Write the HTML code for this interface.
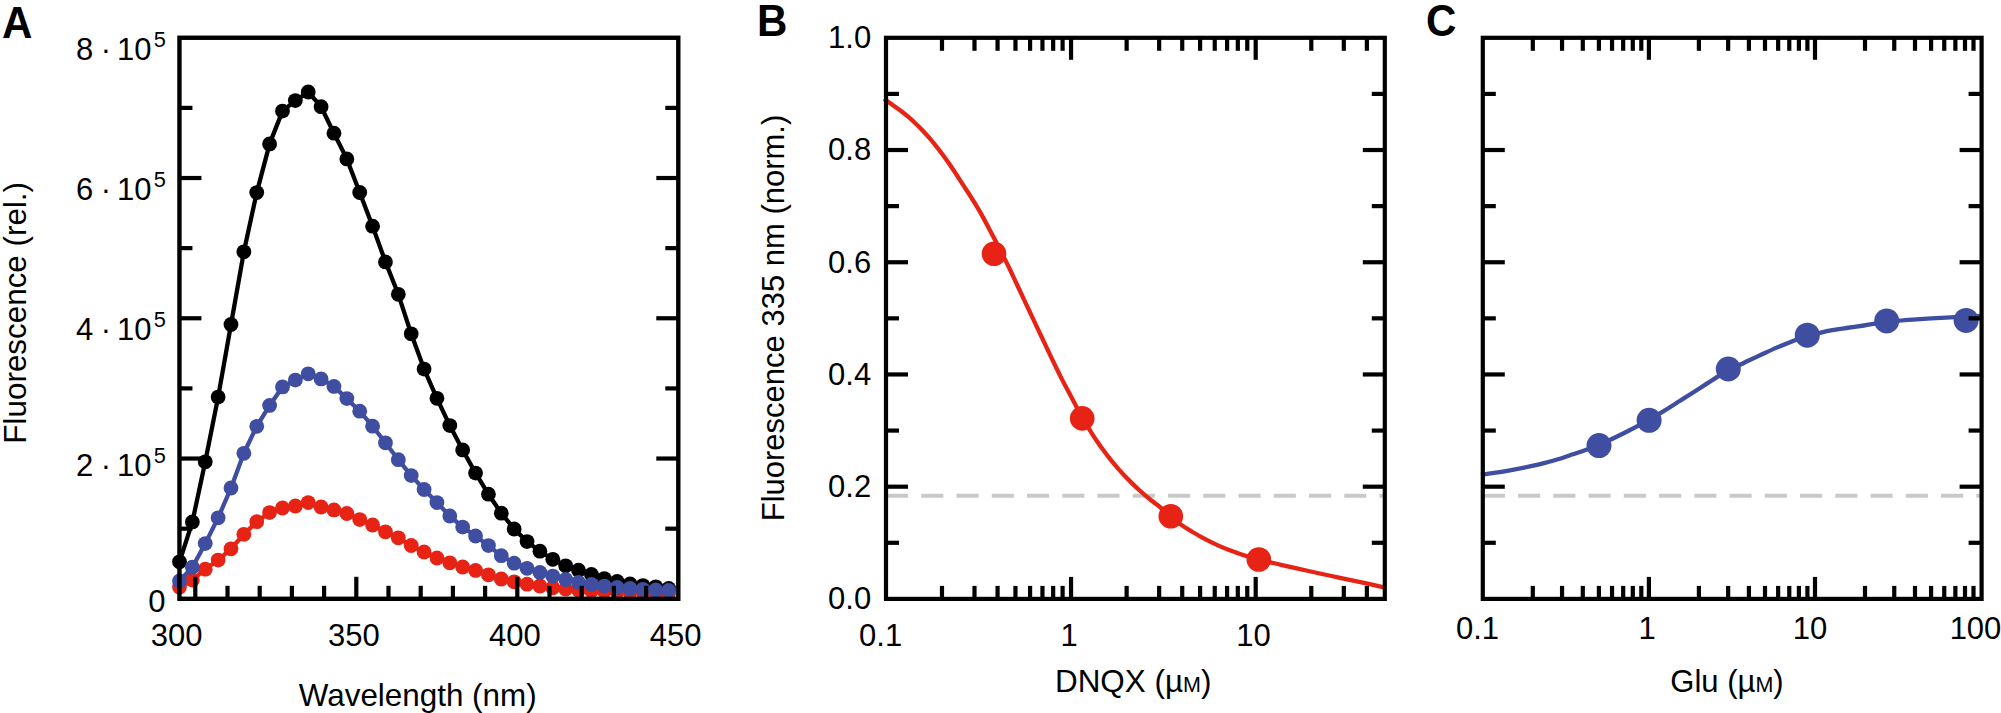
<!DOCTYPE html>
<html lang="en">
<head>
<meta charset="utf-8">
<title>Figure: fluorescence spectra and dose-response curves</title>
<style>
html,body{margin:0;padding:0;background:#fff;}
body{width:2001px;height:713px;overflow:hidden;font-family:"Liberation Sans",Arial,Helvetica,sans-serif;}
svg{display:block;}
</style>
</head>
<body>
<svg width="2001" height="713" viewBox="0 0 2001 713" font-family="'Liberation Sans', Arial, Helvetica, sans-serif" fill="#000">
<rect width="2001" height="713" fill="#fff"/>
<g id="panelA">
<polyline fill="none" stroke="#e62314" stroke-width="4.3" stroke-linejoin="round" points="179.5,587 192.37,580.1 205.24,569.2 218.12,560.1 230.99,548.8 243.86,534.3 256.73,521.7 269.6,512.6 282.48,508 295.35,506 308.22,502.6 321.09,507 333.96,509.9 346.84,513.5 359.71,519.6 372.58,525 385.45,531.8 398.32,537.8 411.2,545.5 424.07,552 436.94,558 449.81,562.8 462.68,567 475.56,570.4 488.43,574.8 501.3,579 514.17,581.8 527.04,584.2 539.92,586 552.79,587.8 565.66,589 578.53,590 591.4,590.7 604.28,591.3 617.15,591.8 630.02,592.2 642.89,592.5 655.76,592.8 668.64,593"/>
<g fill="#e62314"><circle cx="179.5" cy="587" r="7.4"/><circle cx="192.37" cy="580.1" r="7.4"/><circle cx="205.24" cy="569.2" r="7.4"/><circle cx="218.12" cy="560.1" r="7.4"/><circle cx="230.99" cy="548.8" r="7.4"/><circle cx="243.86" cy="534.3" r="7.4"/><circle cx="256.73" cy="521.7" r="7.4"/><circle cx="269.6" cy="512.6" r="7.4"/><circle cx="282.48" cy="508" r="7.4"/><circle cx="295.35" cy="506" r="7.4"/><circle cx="308.22" cy="502.6" r="7.4"/><circle cx="321.09" cy="507" r="7.4"/><circle cx="333.96" cy="509.9" r="7.4"/><circle cx="346.84" cy="513.5" r="7.4"/><circle cx="359.71" cy="519.6" r="7.4"/><circle cx="372.58" cy="525" r="7.4"/><circle cx="385.45" cy="531.8" r="7.4"/><circle cx="398.32" cy="537.8" r="7.4"/><circle cx="411.2" cy="545.5" r="7.4"/><circle cx="424.07" cy="552" r="7.4"/><circle cx="436.94" cy="558" r="7.4"/><circle cx="449.81" cy="562.8" r="7.4"/><circle cx="462.68" cy="567" r="7.4"/><circle cx="475.56" cy="570.4" r="7.4"/><circle cx="488.43" cy="574.8" r="7.4"/><circle cx="501.3" cy="579" r="7.4"/><circle cx="514.17" cy="581.8" r="7.4"/><circle cx="527.04" cy="584.2" r="7.4"/><circle cx="539.92" cy="586" r="7.4"/><circle cx="552.79" cy="587.8" r="7.4"/><circle cx="565.66" cy="589" r="7.4"/><circle cx="578.53" cy="590" r="7.4"/><circle cx="591.4" cy="590.7" r="7.4"/><circle cx="604.28" cy="591.3" r="7.4"/><circle cx="617.15" cy="591.8" r="7.4"/><circle cx="630.02" cy="592.2" r="7.4"/><circle cx="642.89" cy="592.5" r="7.4"/><circle cx="655.76" cy="592.8" r="7.4"/><circle cx="668.64" cy="593" r="7.4"/></g>
<polyline fill="none" stroke="#000" stroke-width="4.3" stroke-linejoin="round" points="179.5,561.8 192.37,521.9 205.24,461.8 218.12,397.1 230.99,324.5 243.86,251.8 256.73,192.6 269.6,143.9 282.48,111.1 295.35,100.6 308.22,92 321.09,106.7 333.96,133.2 346.84,158.9 359.71,192.5 372.58,226.2 385.45,261.9 398.32,294.3 411.2,333.8 424.07,369.1 436.94,398.3 449.81,425.6 462.68,449.9 475.56,473.1 488.43,494.2 501.3,513.2 514.17,529 527.04,541.6 539.92,551.2 552.79,559.3 565.66,565.8 578.53,570.2 591.4,574.4 604.28,578.6 617.15,581.5 630.02,583.9 642.89,585.6 655.76,586.8 668.64,588.5"/>
<g fill="#000"><circle cx="179.5" cy="561.8" r="7.4"/><circle cx="192.37" cy="521.9" r="7.4"/><circle cx="205.24" cy="461.8" r="7.4"/><circle cx="218.12" cy="397.1" r="7.4"/><circle cx="230.99" cy="324.5" r="7.4"/><circle cx="243.86" cy="251.8" r="7.4"/><circle cx="256.73" cy="192.6" r="7.4"/><circle cx="269.6" cy="143.9" r="7.4"/><circle cx="282.48" cy="111.1" r="7.4"/><circle cx="295.35" cy="100.6" r="7.4"/><circle cx="308.22" cy="92" r="7.4"/><circle cx="321.09" cy="106.7" r="7.4"/><circle cx="333.96" cy="133.2" r="7.4"/><circle cx="346.84" cy="158.9" r="7.4"/><circle cx="359.71" cy="192.5" r="7.4"/><circle cx="372.58" cy="226.2" r="7.4"/><circle cx="385.45" cy="261.9" r="7.4"/><circle cx="398.32" cy="294.3" r="7.4"/><circle cx="411.2" cy="333.8" r="7.4"/><circle cx="424.07" cy="369.1" r="7.4"/><circle cx="436.94" cy="398.3" r="7.4"/><circle cx="449.81" cy="425.6" r="7.4"/><circle cx="462.68" cy="449.9" r="7.4"/><circle cx="475.56" cy="473.1" r="7.4"/><circle cx="488.43" cy="494.2" r="7.4"/><circle cx="501.3" cy="513.2" r="7.4"/><circle cx="514.17" cy="529" r="7.4"/><circle cx="527.04" cy="541.6" r="7.4"/><circle cx="539.92" cy="551.2" r="7.4"/><circle cx="552.79" cy="559.3" r="7.4"/><circle cx="565.66" cy="565.8" r="7.4"/><circle cx="578.53" cy="570.2" r="7.4"/><circle cx="591.4" cy="574.4" r="7.4"/><circle cx="604.28" cy="578.6" r="7.4"/><circle cx="617.15" cy="581.5" r="7.4"/><circle cx="630.02" cy="583.9" r="7.4"/><circle cx="642.89" cy="585.6" r="7.4"/><circle cx="655.76" cy="586.8" r="7.4"/><circle cx="668.64" cy="588.5" r="7.4"/></g>
<polyline fill="none" stroke="#3f4ea1" stroke-width="4.3" stroke-linejoin="round" points="179.5,580.9 192.37,567.2 205.24,543.6 218.12,517.8 230.99,488 243.86,453.3 256.73,426.3 269.6,405.4 282.48,386.9 295.35,380.1 308.22,373.8 321.09,378.9 333.96,386.4 346.84,398.6 359.71,411.2 372.58,426.2 385.45,442.8 398.32,459.7 411.2,475.6 424.07,489.5 436.94,502.6 449.81,516 462.68,527.1 475.56,536 488.43,545.6 501.3,555.7 514.17,563.2 527.04,568.3 539.92,572.4 552.79,576.1 565.66,579.5 578.53,582.4 591.4,584.4 604.28,586.1 617.15,587.4 630.02,588.4 642.89,589.3 655.76,590 668.64,590.4"/>
<g fill="#3f4ea1"><circle cx="179.5" cy="580.9" r="7.4"/><circle cx="192.37" cy="567.2" r="7.4"/><circle cx="205.24" cy="543.6" r="7.4"/><circle cx="218.12" cy="517.8" r="7.4"/><circle cx="230.99" cy="488" r="7.4"/><circle cx="243.86" cy="453.3" r="7.4"/><circle cx="256.73" cy="426.3" r="7.4"/><circle cx="269.6" cy="405.4" r="7.4"/><circle cx="282.48" cy="386.9" r="7.4"/><circle cx="295.35" cy="380.1" r="7.4"/><circle cx="308.22" cy="373.8" r="7.4"/><circle cx="321.09" cy="378.9" r="7.4"/><circle cx="333.96" cy="386.4" r="7.4"/><circle cx="346.84" cy="398.6" r="7.4"/><circle cx="359.71" cy="411.2" r="7.4"/><circle cx="372.58" cy="426.2" r="7.4"/><circle cx="385.45" cy="442.8" r="7.4"/><circle cx="398.32" cy="459.7" r="7.4"/><circle cx="411.2" cy="475.6" r="7.4"/><circle cx="424.07" cy="489.5" r="7.4"/><circle cx="436.94" cy="502.6" r="7.4"/><circle cx="449.81" cy="516" r="7.4"/><circle cx="462.68" cy="527.1" r="7.4"/><circle cx="475.56" cy="536" r="7.4"/><circle cx="488.43" cy="545.6" r="7.4"/><circle cx="501.3" cy="555.7" r="7.4"/><circle cx="514.17" cy="563.2" r="7.4"/><circle cx="527.04" cy="568.3" r="7.4"/><circle cx="539.92" cy="572.4" r="7.4"/><circle cx="552.79" cy="576.1" r="7.4"/><circle cx="565.66" cy="579.5" r="7.4"/><circle cx="578.53" cy="582.4" r="7.4"/><circle cx="591.4" cy="584.4" r="7.4"/><circle cx="604.28" cy="586.1" r="7.4"/><circle cx="617.15" cy="587.4" r="7.4"/><circle cx="630.02" cy="588.4" r="7.4"/><circle cx="642.89" cy="589.3" r="7.4"/><circle cx="655.76" cy="590" r="7.4"/><circle cx="668.64" cy="590.4" r="7.4"/></g>
<rect x="179.45" y="37.75" width="498.85" height="561.05" fill="none" stroke="#000" stroke-width="4.4"/>
<line x1="179.45" y1="107.88" x2="192.45" y2="107.88" stroke="#000" stroke-width="4.2" />
<line x1="678.3" y1="107.88" x2="665.3" y2="107.88" stroke="#000" stroke-width="4.2" />
<line x1="179.45" y1="178.01" x2="201.45" y2="178.01" stroke="#000" stroke-width="4.2" />
<line x1="678.3" y1="178.01" x2="656.3" y2="178.01" stroke="#000" stroke-width="4.2" />
<line x1="179.45" y1="248.14" x2="192.45" y2="248.14" stroke="#000" stroke-width="4.2" />
<line x1="678.3" y1="248.14" x2="665.3" y2="248.14" stroke="#000" stroke-width="4.2" />
<line x1="179.45" y1="318.27" x2="201.45" y2="318.27" stroke="#000" stroke-width="4.2" />
<line x1="678.3" y1="318.27" x2="656.3" y2="318.27" stroke="#000" stroke-width="4.2" />
<line x1="179.45" y1="388.41" x2="192.45" y2="388.41" stroke="#000" stroke-width="4.2" />
<line x1="678.3" y1="388.41" x2="665.3" y2="388.41" stroke="#000" stroke-width="4.2" />
<line x1="179.45" y1="458.54" x2="201.45" y2="458.54" stroke="#000" stroke-width="4.2" />
<line x1="678.3" y1="458.54" x2="656.3" y2="458.54" stroke="#000" stroke-width="4.2" />
<line x1="179.45" y1="528.67" x2="192.45" y2="528.67" stroke="#000" stroke-width="4.2" />
<line x1="678.3" y1="528.67" x2="665.3" y2="528.67" stroke="#000" stroke-width="4.2" />
<line x1="646.1" y1="598.8" x2="646.1" y2="585.8" stroke="#000" stroke-width="4.2" />
<line x1="613.9" y1="598.8" x2="613.9" y2="585.8" stroke="#000" stroke-width="4.2" />
<line x1="581.7" y1="598.8" x2="581.7" y2="585.8" stroke="#000" stroke-width="4.2" />
<line x1="549.5" y1="598.8" x2="549.5" y2="585.8" stroke="#000" stroke-width="4.2" />
<line x1="517.3" y1="598.8" x2="517.3" y2="576.8" stroke="#000" stroke-width="4.2" />
<line x1="485.1" y1="598.8" x2="485.1" y2="585.8" stroke="#000" stroke-width="4.2" />
<line x1="452.9" y1="598.8" x2="452.9" y2="585.8" stroke="#000" stroke-width="4.2" />
<line x1="420.7" y1="598.8" x2="420.7" y2="585.8" stroke="#000" stroke-width="4.2" />
<line x1="388.5" y1="598.8" x2="388.5" y2="585.8" stroke="#000" stroke-width="4.2" />
<line x1="356.3" y1="598.8" x2="356.3" y2="576.8" stroke="#000" stroke-width="4.2" />
<line x1="324.1" y1="598.8" x2="324.1" y2="585.8" stroke="#000" stroke-width="4.2" />
<line x1="291.9" y1="598.8" x2="291.9" y2="585.8" stroke="#000" stroke-width="4.2" />
<line x1="259.7" y1="598.8" x2="259.7" y2="585.8" stroke="#000" stroke-width="4.2" />
<line x1="227.5" y1="598.8" x2="227.5" y2="585.8" stroke="#000" stroke-width="4.2" />
<line x1="195.3" y1="598.8" x2="195.3" y2="576.8" stroke="#000" stroke-width="4.2" />
<text x="84.6" y="59.6" font-size="31" text-anchor="middle" font-weight="normal" >8</text>
<text x="105.9" y="59.6" font-size="31" text-anchor="middle" font-weight="normal" >·</text>
<text x="151.6" y="59.6" font-size="31" text-anchor="end" font-weight="normal" >10</text>
<text x="153.7" y="46.7" font-size="21.8" text-anchor="start" font-weight="normal" >5</text>
<text x="84.6" y="199.6" font-size="31" text-anchor="middle" font-weight="normal" >6</text>
<text x="105.9" y="199.6" font-size="31" text-anchor="middle" font-weight="normal" >·</text>
<text x="151.6" y="199.6" font-size="31" text-anchor="end" font-weight="normal" >10</text>
<text x="153.7" y="186.7" font-size="21.8" text-anchor="start" font-weight="normal" >5</text>
<text x="84.6" y="340.1" font-size="31" text-anchor="middle" font-weight="normal" >4</text>
<text x="105.9" y="340.1" font-size="31" text-anchor="middle" font-weight="normal" >·</text>
<text x="151.6" y="340.1" font-size="31" text-anchor="end" font-weight="normal" >10</text>
<text x="153.7" y="327.2" font-size="21.8" text-anchor="start" font-weight="normal" >5</text>
<text x="84.6" y="476.3" font-size="31" text-anchor="middle" font-weight="normal" >2</text>
<text x="105.9" y="476.3" font-size="31" text-anchor="middle" font-weight="normal" >·</text>
<text x="151.6" y="476.3" font-size="31" text-anchor="end" font-weight="normal" >10</text>
<text x="153.7" y="463.4" font-size="21.8" text-anchor="start" font-weight="normal" >5</text>
<text x="165.6" y="612.2" font-size="31" text-anchor="end" font-weight="normal" >0</text>
<text x="176.7" y="646.2" font-size="31" text-anchor="middle" font-weight="normal" >300</text>
<text x="353.8" y="646.2" font-size="31" text-anchor="middle" font-weight="normal" >350</text>
<text x="514.8" y="646.2" font-size="31" text-anchor="middle" font-weight="normal" >400</text>
<text x="675.6" y="646.2" font-size="31" text-anchor="middle" font-weight="normal" >450</text>
<text x="417.7" y="705.8" font-size="31.4" text-anchor="middle" font-weight="normal" >Wavelength (nm)</text>
<text transform="translate(26.1,312.8) rotate(-90)" font-size="31.4" text-anchor="middle">Fluorescence (rel.)</text>
<text transform="translate(2.1,38.1) scale(0.935,1)" font-size="45" font-weight="bold">A</text>
</g>
<g id="panelB">
<line x1="886" y1="495.8" x2="1384.8" y2="495.8" stroke="#c9c9c9" stroke-width="4.1" stroke-dasharray="22.1 13.15"/>
<path d="M884,98.9 C884.73,99.4 886.73,100.73 888.4,101.9 C890.07,103.07 891.9,104.38 894,105.9 C896.1,107.42 898.65,109.2 901,111 C903.35,112.8 905.75,114.7 908.1,116.7 C910.45,118.7 912.77,120.78 915.1,123 C917.43,125.22 919.77,127.55 922.1,130 C924.43,132.45 926.77,135.02 929.1,137.7 C931.43,140.38 933.77,143.18 936.1,146.1 C938.43,149.02 940.77,152.05 943.1,155.2 C945.43,158.35 947.75,161.57 950.1,165 C952.45,168.43 954.85,172.2 957.2,175.8 C959.55,179.4 962.38,183.82 964.2,186.6 C966.02,189.38 966.28,189.65 968.1,192.5 C969.92,195.35 972.77,199.85 975.1,203.7 C977.43,207.55 979.77,211.43 982.1,215.6 C984.43,219.77 986.77,224.28 989.1,228.7 C991.43,233.12 993.77,237.62 996.1,242.1 C998.43,246.58 1000.77,250.98 1003.1,255.6 C1005.43,260.22 1007.52,264.4 1010.1,269.8 C1012.68,275.2 1016.08,282.62 1018.6,288 C1021.12,293.38 1023,297.42 1025.2,302.1 C1027.4,306.78 1029.6,311.43 1031.8,316.1 C1034,320.77 1036.2,325.43 1038.4,330.1 C1040.6,334.77 1042.65,339.12 1045,344.1 C1047.35,349.08 1049.73,354.25 1052.5,360 C1055.27,365.75 1058.85,373.17 1061.6,378.6 C1064.35,384.03 1066.55,387.97 1069,392.6 C1071.45,397.23 1074.1,402.23 1076.3,406.4 C1078.5,410.57 1079.67,413.2 1082.2,417.6 C1084.73,422 1089.03,428.87 1091.5,432.8 C1093.97,436.73 1094.92,438.17 1097,441.2 C1099.08,444.23 1101.67,447.83 1104,451 C1106.33,454.17 1108.65,457.27 1111,460.2 C1113.35,463.13 1115.75,465.92 1118.1,468.6 C1120.45,471.28 1122.77,473.83 1125.1,476.3 C1127.43,478.77 1129.77,481.12 1132.1,483.4 C1134.43,485.68 1136.77,487.88 1139.1,490 C1141.43,492.12 1143.77,494.13 1146.1,496.1 C1148.43,498.07 1150.77,499.95 1153.1,501.8 C1155.43,503.65 1157.17,504.73 1160.1,507.2 C1163.03,509.67 1167.38,513.8 1170.7,516.6 C1174.02,519.4 1176.35,521.43 1180,524 C1183.65,526.57 1188.4,529.47 1192.6,532 C1196.8,534.53 1200.98,536.97 1205.2,539.2 C1209.42,541.43 1213.68,543.5 1217.9,545.4 C1222.12,547.3 1226.3,549 1230.5,550.6 C1234.7,552.2 1238.37,553.5 1243.1,555 C1247.83,556.5 1252.58,557.97 1258.9,559.6 C1265.22,561.23 1273.12,562.98 1281,564.8 C1288.88,566.62 1297.78,568.63 1306.2,570.5 C1314.62,572.37 1323.08,574.2 1331.5,576 C1339.92,577.8 1347.62,579.33 1356.7,581.3 C1365.78,583.27 1381.12,586.72 1386,587.8" fill="none" stroke="#e62314" stroke-width="4.3"/>
<circle cx="994.0" cy="253.7" r="12.3" fill="#e62314"/>
<circle cx="1082.2" cy="418.4" r="12.3" fill="#e62314"/>
<circle cx="1170.8" cy="516.3" r="12.3" fill="#e62314"/>
<circle cx="1258.8" cy="559.5" r="12.3" fill="#e62314"/>
<rect x="886" y="37.8" width="498.8" height="561.1" fill="none" stroke="#000" stroke-width="4.2"/>
<line x1="941.99" y1="37.8" x2="941.99" y2="50.8" stroke="#000" stroke-width="4.2" />
<line x1="941.99" y1="598.9" x2="941.99" y2="585.9" stroke="#000" stroke-width="4.2" />
<line x1="974.5" y1="37.8" x2="974.5" y2="50.8" stroke="#000" stroke-width="4.2" />
<line x1="974.5" y1="598.9" x2="974.5" y2="585.9" stroke="#000" stroke-width="4.2" />
<line x1="997.57" y1="37.8" x2="997.57" y2="50.8" stroke="#000" stroke-width="4.2" />
<line x1="997.57" y1="598.9" x2="997.57" y2="585.9" stroke="#000" stroke-width="4.2" />
<line x1="1015.46" y1="37.8" x2="1015.46" y2="50.8" stroke="#000" stroke-width="4.2" />
<line x1="1015.46" y1="598.9" x2="1015.46" y2="585.9" stroke="#000" stroke-width="4.2" />
<line x1="1030.09" y1="37.8" x2="1030.09" y2="50.8" stroke="#000" stroke-width="4.2" />
<line x1="1030.09" y1="598.9" x2="1030.09" y2="585.9" stroke="#000" stroke-width="4.2" />
<line x1="1042.45" y1="37.8" x2="1042.45" y2="50.8" stroke="#000" stroke-width="4.2" />
<line x1="1042.45" y1="598.9" x2="1042.45" y2="585.9" stroke="#000" stroke-width="4.2" />
<line x1="1053.16" y1="37.8" x2="1053.16" y2="50.8" stroke="#000" stroke-width="4.2" />
<line x1="1053.16" y1="598.9" x2="1053.16" y2="585.9" stroke="#000" stroke-width="4.2" />
<line x1="1062.6" y1="37.8" x2="1062.6" y2="50.8" stroke="#000" stroke-width="4.2" />
<line x1="1062.6" y1="598.9" x2="1062.6" y2="585.9" stroke="#000" stroke-width="4.2" />
<line x1="1071.05" y1="37.8" x2="1071.05" y2="59.8" stroke="#000" stroke-width="4.2" />
<line x1="1071.05" y1="598.9" x2="1071.05" y2="576.9" stroke="#000" stroke-width="4.2" />
<line x1="1126.64" y1="37.8" x2="1126.64" y2="50.8" stroke="#000" stroke-width="4.2" />
<line x1="1126.64" y1="598.9" x2="1126.64" y2="585.9" stroke="#000" stroke-width="4.2" />
<line x1="1159.15" y1="37.8" x2="1159.15" y2="50.8" stroke="#000" stroke-width="4.2" />
<line x1="1159.15" y1="598.9" x2="1159.15" y2="585.9" stroke="#000" stroke-width="4.2" />
<line x1="1182.22" y1="37.8" x2="1182.22" y2="50.8" stroke="#000" stroke-width="4.2" />
<line x1="1182.22" y1="598.9" x2="1182.22" y2="585.9" stroke="#000" stroke-width="4.2" />
<line x1="1200.11" y1="37.8" x2="1200.11" y2="50.8" stroke="#000" stroke-width="4.2" />
<line x1="1200.11" y1="598.9" x2="1200.11" y2="585.9" stroke="#000" stroke-width="4.2" />
<line x1="1214.74" y1="37.8" x2="1214.74" y2="50.8" stroke="#000" stroke-width="4.2" />
<line x1="1214.74" y1="598.9" x2="1214.74" y2="585.9" stroke="#000" stroke-width="4.2" />
<line x1="1227.1" y1="37.8" x2="1227.1" y2="50.8" stroke="#000" stroke-width="4.2" />
<line x1="1227.1" y1="598.9" x2="1227.1" y2="585.9" stroke="#000" stroke-width="4.2" />
<line x1="1237.81" y1="37.8" x2="1237.81" y2="50.8" stroke="#000" stroke-width="4.2" />
<line x1="1237.81" y1="598.9" x2="1237.81" y2="585.9" stroke="#000" stroke-width="4.2" />
<line x1="1247.25" y1="37.8" x2="1247.25" y2="50.8" stroke="#000" stroke-width="4.2" />
<line x1="1247.25" y1="598.9" x2="1247.25" y2="585.9" stroke="#000" stroke-width="4.2" />
<line x1="1255.7" y1="37.8" x2="1255.7" y2="59.8" stroke="#000" stroke-width="4.2" />
<line x1="1255.7" y1="598.9" x2="1255.7" y2="576.9" stroke="#000" stroke-width="4.2" />
<line x1="1311.29" y1="37.8" x2="1311.29" y2="50.8" stroke="#000" stroke-width="4.2" />
<line x1="1311.29" y1="598.9" x2="1311.29" y2="585.9" stroke="#000" stroke-width="4.2" />
<line x1="1343.8" y1="37.8" x2="1343.8" y2="50.8" stroke="#000" stroke-width="4.2" />
<line x1="1343.8" y1="598.9" x2="1343.8" y2="585.9" stroke="#000" stroke-width="4.2" />
<line x1="1366.87" y1="37.8" x2="1366.87" y2="50.8" stroke="#000" stroke-width="4.2" />
<line x1="1366.87" y1="598.9" x2="1366.87" y2="585.9" stroke="#000" stroke-width="4.2" />
<line x1="886" y1="93.91" x2="899" y2="93.91" stroke="#000" stroke-width="4.2" />
<line x1="1384.8" y1="93.91" x2="1371.8" y2="93.91" stroke="#000" stroke-width="4.2" />
<line x1="886" y1="150.02" x2="908" y2="150.02" stroke="#000" stroke-width="4.2" />
<line x1="1384.8" y1="150.02" x2="1362.8" y2="150.02" stroke="#000" stroke-width="4.2" />
<line x1="886" y1="206.13" x2="899" y2="206.13" stroke="#000" stroke-width="4.2" />
<line x1="1384.8" y1="206.13" x2="1371.8" y2="206.13" stroke="#000" stroke-width="4.2" />
<line x1="886" y1="262.24" x2="908" y2="262.24" stroke="#000" stroke-width="4.2" />
<line x1="1384.8" y1="262.24" x2="1362.8" y2="262.24" stroke="#000" stroke-width="4.2" />
<line x1="886" y1="318.35" x2="899" y2="318.35" stroke="#000" stroke-width="4.2" />
<line x1="1384.8" y1="318.35" x2="1371.8" y2="318.35" stroke="#000" stroke-width="4.2" />
<line x1="886" y1="374.46" x2="908" y2="374.46" stroke="#000" stroke-width="4.2" />
<line x1="1384.8" y1="374.46" x2="1362.8" y2="374.46" stroke="#000" stroke-width="4.2" />
<line x1="886" y1="430.57" x2="899" y2="430.57" stroke="#000" stroke-width="4.2" />
<line x1="1384.8" y1="430.57" x2="1371.8" y2="430.57" stroke="#000" stroke-width="4.2" />
<line x1="886" y1="486.68" x2="908" y2="486.68" stroke="#000" stroke-width="4.2" />
<line x1="1384.8" y1="486.68" x2="1362.8" y2="486.68" stroke="#000" stroke-width="4.2" />
<line x1="886" y1="542.79" x2="899" y2="542.79" stroke="#000" stroke-width="4.2" />
<line x1="1384.8" y1="542.79" x2="1371.8" y2="542.79" stroke="#000" stroke-width="4.2" />
<text x="871.2" y="48.1" font-size="31" text-anchor="end" font-weight="normal" >1.0</text>
<text x="871.2" y="160.32" font-size="31" text-anchor="end" font-weight="normal" >0.8</text>
<text x="871.2" y="272.54" font-size="31" text-anchor="end" font-weight="normal" >0.6</text>
<text x="871.2" y="384.76" font-size="31" text-anchor="end" font-weight="normal" >0.4</text>
<text x="871.2" y="496.98" font-size="31" text-anchor="end" font-weight="normal" >0.2</text>
<text x="871.2" y="609.2" font-size="31" text-anchor="end" font-weight="normal" >0.0</text>
<text x="880.6" y="646.2" font-size="31" text-anchor="middle" font-weight="normal" >0.1</text>
<text x="1069" y="646.2" font-size="31" text-anchor="middle" font-weight="normal" >1</text>
<text x="1253.5" y="646.2" font-size="31" text-anchor="middle" font-weight="normal" >10</text>
<text x="1133.2" y="691.8" font-size="31.4" text-anchor="middle" font-weight="normal" >DNQX (µ<tspan font-size="21.5">M</tspan>)</text>
<text transform="translate(783.5,318) rotate(-90)" font-size="31" text-anchor="middle">Fluorescence 335 nm (norm.)</text>
<text transform="translate(757.0,36.1) scale(0.935,1)" font-size="45" font-weight="bold">B</text>
</g>
<g id="panelC">
<line x1="1482.8" y1="495.8" x2="1981.6" y2="495.8" stroke="#c9c9c9" stroke-width="4.1" stroke-dasharray="22.1 13.15"/>
<path d="M1481,474.8 C1483.83,474.4 1492.33,473.3 1498,472.4 C1503.67,471.5 1509.5,470.45 1515,469.4 C1520.5,468.35 1526,467.2 1531,466.1 C1536,465 1540.33,463.98 1545,462.8 C1549.67,461.62 1554.33,460.42 1559,459 C1563.67,457.58 1568.33,455.88 1573,454.3 C1577.67,452.72 1582.67,451.05 1587,449.5 C1591.33,447.95 1592.8,447.75 1599,445 C1605.2,442.25 1615.88,437.2 1624.2,433 C1632.52,428.8 1641.88,423.72 1648.9,419.8 C1655.92,415.88 1661.12,412.67 1666.3,409.5 C1671.48,406.33 1675.33,403.75 1680,400.8 C1684.67,397.85 1689.13,395.1 1694.3,391.8 C1699.47,388.5 1705.35,384.63 1711,381 C1716.65,377.37 1723.2,372.8 1728.2,370 C1733.2,367.2 1737.68,365.73 1741,364.2 C1744.32,362.67 1744.58,362.45 1748.1,360.8 C1751.62,359.15 1757.43,356.45 1762.1,354.3 C1766.77,352.15 1771.43,349.92 1776.1,347.9 C1780.77,345.88 1786.58,343.6 1790.1,342.2 C1793.62,340.8 1794.32,340.5 1797.2,339.5 C1800.08,338.5 1803.43,337.35 1807.4,336.2 C1811.37,335.05 1816.87,333.6 1821,332.6 C1825.13,331.6 1827.98,330.97 1832.2,330.2 C1836.42,329.43 1841,328.78 1846.3,328 C1851.6,327.22 1859.17,326.22 1864,325.5 C1868.83,324.78 1871.5,324.27 1875.3,323.7 C1879.1,323.13 1882.83,322.6 1886.8,322.1 C1890.77,321.6 1894.72,321.12 1899.1,320.7 C1903.48,320.28 1908.42,319.93 1913.1,319.6 C1917.78,319.27 1922.52,318.98 1927.2,318.7 C1931.88,318.42 1936.53,318.15 1941.2,317.9 C1945.87,317.65 1951.07,317.4 1955.2,317.2 C1959.33,317 1961.6,316.9 1966,316.7 C1970.4,316.5 1979,316.12 1981.6,316" fill="none" stroke="#3f4ea1" stroke-width="4.3"/>
<circle cx="1599.0" cy="445.6" r="12.5" fill="#3f4ea1"/>
<circle cx="1649.1" cy="420.3" r="12.5" fill="#3f4ea1"/>
<circle cx="1728.3" cy="369.0" r="12.5" fill="#3f4ea1"/>
<circle cx="1807.3" cy="335.2" r="12.5" fill="#3f4ea1"/>
<circle cx="1886.7" cy="320.9" r="12.5" fill="#3f4ea1"/>
<circle cx="1966.1" cy="320.4" r="12.5" fill="#3f4ea1"/>
<rect x="1482.8" y="37.8" width="498.8" height="561.1" fill="none" stroke="#000" stroke-width="4.2"/>
<line x1="1532.8" y1="37.8" x2="1532.8" y2="50.8" stroke="#000" stroke-width="4.2" />
<line x1="1532.8" y1="598.9" x2="1532.8" y2="585.9" stroke="#000" stroke-width="4.2" />
<line x1="1562.05" y1="37.8" x2="1562.05" y2="50.8" stroke="#000" stroke-width="4.2" />
<line x1="1562.05" y1="598.9" x2="1562.05" y2="585.9" stroke="#000" stroke-width="4.2" />
<line x1="1582.8" y1="37.8" x2="1582.8" y2="50.8" stroke="#000" stroke-width="4.2" />
<line x1="1582.8" y1="598.9" x2="1582.8" y2="585.9" stroke="#000" stroke-width="4.2" />
<line x1="1598.9" y1="37.8" x2="1598.9" y2="50.8" stroke="#000" stroke-width="4.2" />
<line x1="1598.9" y1="598.9" x2="1598.9" y2="585.9" stroke="#000" stroke-width="4.2" />
<line x1="1612.05" y1="37.8" x2="1612.05" y2="50.8" stroke="#000" stroke-width="4.2" />
<line x1="1612.05" y1="598.9" x2="1612.05" y2="585.9" stroke="#000" stroke-width="4.2" />
<line x1="1623.17" y1="37.8" x2="1623.17" y2="50.8" stroke="#000" stroke-width="4.2" />
<line x1="1623.17" y1="598.9" x2="1623.17" y2="585.9" stroke="#000" stroke-width="4.2" />
<line x1="1632.8" y1="37.8" x2="1632.8" y2="50.8" stroke="#000" stroke-width="4.2" />
<line x1="1632.8" y1="598.9" x2="1632.8" y2="585.9" stroke="#000" stroke-width="4.2" />
<line x1="1641.3" y1="37.8" x2="1641.3" y2="50.8" stroke="#000" stroke-width="4.2" />
<line x1="1641.3" y1="598.9" x2="1641.3" y2="585.9" stroke="#000" stroke-width="4.2" />
<line x1="1648.9" y1="37.8" x2="1648.9" y2="59.8" stroke="#000" stroke-width="4.2" />
<line x1="1648.9" y1="598.9" x2="1648.9" y2="576.9" stroke="#000" stroke-width="4.2" />
<line x1="1698.9" y1="37.8" x2="1698.9" y2="50.8" stroke="#000" stroke-width="4.2" />
<line x1="1698.9" y1="598.9" x2="1698.9" y2="585.9" stroke="#000" stroke-width="4.2" />
<line x1="1728.15" y1="37.8" x2="1728.15" y2="50.8" stroke="#000" stroke-width="4.2" />
<line x1="1728.15" y1="598.9" x2="1728.15" y2="585.9" stroke="#000" stroke-width="4.2" />
<line x1="1748.9" y1="37.8" x2="1748.9" y2="50.8" stroke="#000" stroke-width="4.2" />
<line x1="1748.9" y1="598.9" x2="1748.9" y2="585.9" stroke="#000" stroke-width="4.2" />
<line x1="1765" y1="37.8" x2="1765" y2="50.8" stroke="#000" stroke-width="4.2" />
<line x1="1765" y1="598.9" x2="1765" y2="585.9" stroke="#000" stroke-width="4.2" />
<line x1="1778.15" y1="37.8" x2="1778.15" y2="50.8" stroke="#000" stroke-width="4.2" />
<line x1="1778.15" y1="598.9" x2="1778.15" y2="585.9" stroke="#000" stroke-width="4.2" />
<line x1="1789.27" y1="37.8" x2="1789.27" y2="50.8" stroke="#000" stroke-width="4.2" />
<line x1="1789.27" y1="598.9" x2="1789.27" y2="585.9" stroke="#000" stroke-width="4.2" />
<line x1="1798.9" y1="37.8" x2="1798.9" y2="50.8" stroke="#000" stroke-width="4.2" />
<line x1="1798.9" y1="598.9" x2="1798.9" y2="585.9" stroke="#000" stroke-width="4.2" />
<line x1="1807.4" y1="37.8" x2="1807.4" y2="50.8" stroke="#000" stroke-width="4.2" />
<line x1="1807.4" y1="598.9" x2="1807.4" y2="585.9" stroke="#000" stroke-width="4.2" />
<line x1="1815" y1="37.8" x2="1815" y2="59.8" stroke="#000" stroke-width="4.2" />
<line x1="1815" y1="598.9" x2="1815" y2="576.9" stroke="#000" stroke-width="4.2" />
<line x1="1865" y1="37.8" x2="1865" y2="50.8" stroke="#000" stroke-width="4.2" />
<line x1="1865" y1="598.9" x2="1865" y2="585.9" stroke="#000" stroke-width="4.2" />
<line x1="1894.25" y1="37.8" x2="1894.25" y2="50.8" stroke="#000" stroke-width="4.2" />
<line x1="1894.25" y1="598.9" x2="1894.25" y2="585.9" stroke="#000" stroke-width="4.2" />
<line x1="1915" y1="37.8" x2="1915" y2="50.8" stroke="#000" stroke-width="4.2" />
<line x1="1915" y1="598.9" x2="1915" y2="585.9" stroke="#000" stroke-width="4.2" />
<line x1="1931.1" y1="37.8" x2="1931.1" y2="50.8" stroke="#000" stroke-width="4.2" />
<line x1="1931.1" y1="598.9" x2="1931.1" y2="585.9" stroke="#000" stroke-width="4.2" />
<line x1="1944.25" y1="37.8" x2="1944.25" y2="50.8" stroke="#000" stroke-width="4.2" />
<line x1="1944.25" y1="598.9" x2="1944.25" y2="585.9" stroke="#000" stroke-width="4.2" />
<line x1="1955.37" y1="37.8" x2="1955.37" y2="50.8" stroke="#000" stroke-width="4.2" />
<line x1="1955.37" y1="598.9" x2="1955.37" y2="585.9" stroke="#000" stroke-width="4.2" />
<line x1="1965" y1="37.8" x2="1965" y2="50.8" stroke="#000" stroke-width="4.2" />
<line x1="1965" y1="598.9" x2="1965" y2="585.9" stroke="#000" stroke-width="4.2" />
<line x1="1973.5" y1="37.8" x2="1973.5" y2="50.8" stroke="#000" stroke-width="4.2" />
<line x1="1973.5" y1="598.9" x2="1973.5" y2="585.9" stroke="#000" stroke-width="4.2" />
<line x1="1482.8" y1="93.91" x2="1495.8" y2="93.91" stroke="#000" stroke-width="4.2" />
<line x1="1981.6" y1="93.91" x2="1968.6" y2="93.91" stroke="#000" stroke-width="4.2" />
<line x1="1482.8" y1="150.02" x2="1504.8" y2="150.02" stroke="#000" stroke-width="4.2" />
<line x1="1981.6" y1="150.02" x2="1959.6" y2="150.02" stroke="#000" stroke-width="4.2" />
<line x1="1482.8" y1="206.13" x2="1495.8" y2="206.13" stroke="#000" stroke-width="4.2" />
<line x1="1981.6" y1="206.13" x2="1968.6" y2="206.13" stroke="#000" stroke-width="4.2" />
<line x1="1482.8" y1="262.24" x2="1504.8" y2="262.24" stroke="#000" stroke-width="4.2" />
<line x1="1981.6" y1="262.24" x2="1959.6" y2="262.24" stroke="#000" stroke-width="4.2" />
<line x1="1482.8" y1="318.35" x2="1495.8" y2="318.35" stroke="#000" stroke-width="4.2" />
<line x1="1981.6" y1="318.35" x2="1968.6" y2="318.35" stroke="#000" stroke-width="4.2" />
<line x1="1482.8" y1="374.46" x2="1504.8" y2="374.46" stroke="#000" stroke-width="4.2" />
<line x1="1981.6" y1="374.46" x2="1959.6" y2="374.46" stroke="#000" stroke-width="4.2" />
<line x1="1482.8" y1="430.57" x2="1495.8" y2="430.57" stroke="#000" stroke-width="4.2" />
<line x1="1981.6" y1="430.57" x2="1968.6" y2="430.57" stroke="#000" stroke-width="4.2" />
<line x1="1482.8" y1="486.68" x2="1504.8" y2="486.68" stroke="#000" stroke-width="4.2" />
<line x1="1981.6" y1="486.68" x2="1959.6" y2="486.68" stroke="#000" stroke-width="4.2" />
<line x1="1482.8" y1="542.79" x2="1495.8" y2="542.79" stroke="#000" stroke-width="4.2" />
<line x1="1981.6" y1="542.79" x2="1968.6" y2="542.79" stroke="#000" stroke-width="4.2" />
<text x="1477.5" y="639.3" font-size="31" text-anchor="middle" font-weight="normal" >0.1</text>
<text x="1647" y="639.3" font-size="31" text-anchor="middle" font-weight="normal" >1</text>
<text x="1810" y="639.3" font-size="31" text-anchor="middle" font-weight="normal" >10</text>
<text x="1975.5" y="639.3" font-size="31" text-anchor="middle" font-weight="normal" >100</text>
<text x="1727" y="691.5" font-size="31" text-anchor="middle" font-weight="normal" >Glu (µ<tspan font-size="21.5">M</tspan>)</text>
<text transform="translate(1425.9,35.6) scale(0.935,1)" font-size="45" font-weight="bold">C</text>
</g>
</svg>
</body>
</html>
